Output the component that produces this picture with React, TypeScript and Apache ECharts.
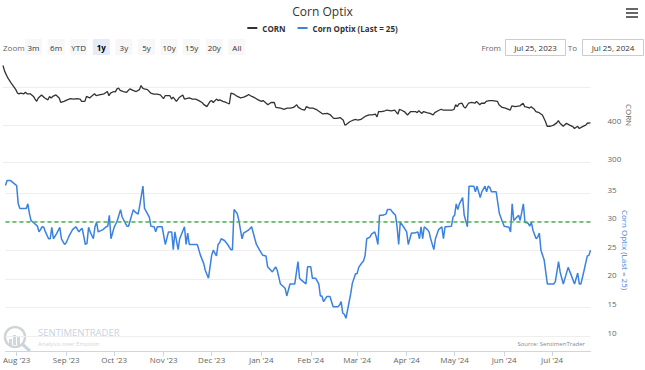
import React, { useEffect, useRef } from "react";
import * as echarts from "echarts";

// ---- data (day offsets from Jul 25, 2023) ----
const cornDays = [0,1,3,5,8,9,10,11,13,14,15,17,19,20,21,22,24,26,28,29,30,31,33,35,36,38,40,42,44,46,48,49,51,52,54,55,57,58,60,63,65,66,67,69,70,71,72,73,75,77,79,81,83,85,86,87,88,90,92,94,96,98,100,101,104,105,106,108,110,112,113,116,118,120,122,124,125,127,129,130,131,133,134,135,137,139,141,142,144,146,148,150,152,153,155,157,159,161,162,164,165,167,169,170,173,175,177,179,181,183,184,186,188,189,191,193,195,197,199,202,204,206,208,210,212,213,214,216,218,220,221,223,224,226,228,230,232,233,234,236,238,239,242,244,246,247,248,250,252,254,257,258,259,261,262,264,266,268,269,271,273,274,276,280,281,282,283,284,286,287,288,290,292,294,295,297,298,300,301,303,305,308,309,311,313,316,317,319,322,324,325,327,328,329,331,332,334,336,337,338,339,341,343,345,346,347,349,351,353,355,356,358,359,361,363,364,366];
const cornValues = [557,542,524,511,493,484,482,484,482,486,482,482,475,468,462,471,479,471,466,475,471,475,479,471,459,462,466,469,468,469,468,462,462,475,471,475,482,477,479,482,488,477,484,488,487,495,497,491,488,486,495,491,488,493,504,497,495,493,484,481,481,479,469,477,477,468,473,462,473,479,468,471,468,468,464,459,454,448,462,464,459,468,464,466,462,459,455,484,481,475,471,473,477,480,475,471,466,462,464,457,453,459,459,446,444,441,444,444,446,453,446,441,439,448,444,444,441,435,429,430,426,417,417,419,412,399,401,408,412,414,412,414,417,423,426,426,428,421,435,435,437,439,437,439,428,441,439,435,426,435,435,432,437,430,435,432,430,426,432,437,441,439,439,439,441,453,448,455,457,448,444,457,459,457,462,453,457,457,462,464,464,462,453,446,444,439,450,448,450,457,448,446,444,448,441,435,432,426,417,408,396,396,399,405,411,404,396,404,399,395,390,396,390,395,399,404,405];

const optixDays = [0,1,3,7,8,9,13,14,15,16,18,20,21,23,24,25,27,28,29,30,32,34,35,37,38,40,42,44,46,47,48,50,51,52,53,55,56,57,58,61,63,64,65,66,68,70,72,73,76,77,80,81,83,84,86,87,90,91,93,94,95,98,100,102,104,105,106,108,109,112,113,114,115,120,122,124,125,127,129,130,131,132,133,134,135,137,139,141,142,143,145,146,148,149,152,154,156,157,159,161,163,164,166,167,169,170,172,174,175,176,178,181,183,184,185,188,189,191,192,194,196,197,198,199,201,203,205,208,209,210,211,212,213,214,216,217,219,220,221,223,224,225,226,228,229,231,232,233,234,236,238,239,241,242,244,245,246,247,249,251,252,254,256,258,259,260,261,262,264,265,266,268,269,271,273,274,275,276,279,280,281,282,283,284,286,287,289,290,293,294,295,297,298,300,301,302,303,304,307,309,311,312,315,316,317,318,321,322,324,325,327,328,329,330,332,333,334,335,337,339,343,344,346,347,349,352,354,356,358,359,360,362,364,365,366];
const optixValues = [36.3,37.2,37.2,36.3,33.1,32.3,32.3,33.1,31.4,30.2,29.7,29.2,28.2,29.1,29.0,28.2,27.0,27.0,29.0,27.0,27.9,29.0,27.0,26.0,26.3,27.6,28.6,29.1,28.2,28.6,28.8,26.0,26.2,29.0,28.2,27.0,29.1,29.9,28.2,28.6,29.1,29.2,31.1,27.0,29.0,30.2,32.1,30.8,29.2,29.2,32.1,31.7,31.3,32.8,36.2,32.3,30.8,29.2,29.1,28.2,29.1,29.1,26.0,28.2,28.2,25.1,28.2,25.1,27.0,29.1,26.0,28.0,26.0,26.0,24.1,22.7,21.5,20.1,24.1,25.0,24.5,24.0,26.0,26.3,27.0,26.7,26.0,25.1,25.1,32.1,31.4,30.2,27.0,28.0,28.5,29.1,27.0,26.0,25.0,24.1,24.0,22.1,21.5,21.2,22.1,21.5,19.1,18.6,18.3,17.0,19.1,19.1,23.0,20.1,19.8,19.1,22.1,22.1,20.1,20.1,19.1,17.0,17.0,16.0,16.9,16.9,15.1,15.1,15.4,16.0,14.0,13.8,13.1,14.5,17.4,19.2,20.9,20.9,22.0,22.8,23.1,24.1,27.0,27.3,27.8,28.2,27.3,26.0,31.1,31.1,31.3,32.1,32.1,31.7,31.1,29.1,26.0,29.9,29.1,28.2,26.0,28.0,28.0,28.2,27.0,29.1,27.0,29.1,28.6,28.2,27.0,25.1,27.0,28.6,29.1,27.0,29.1,29.1,29.2,30.8,31.1,33.1,32.1,33.1,34.2,31.1,29.1,36.2,36.2,35.2,36.2,34.2,35.2,36.2,35.2,36.2,36.0,35.2,35.2,31.4,29.9,29.2,29.0,28.2,33.1,30.2,31.1,30.2,33.1,29.9,29.7,29.2,29.9,28.5,27.0,27.3,28.0,25.0,23.3,19.1,19.1,19.5,23.0,21.2,19.1,22.0,20.6,19.1,21.0,19.1,19.1,21.5,24.0,24.1,25.0];

const thresholdLevel = 30;
const monthLabels = ["Aug '23","Sep '23","Oct '23","Nov '23","Dec '23","Jan '24","Feb '24","Mar '24","Apr '24","May '24","Jun '24","Jul '24"];
const zoomButtons = ["3m","6m","YTD","1y","3y","5y","10y","15y","20y","All"];
const cornTicks = [300, 400, 500];
const optixTicks = [10, 15, 20, 25, 30, 35];

const START = new Date(2023, 6, 25).getTime();
const DAY = 86400000;
const END = START + 366 * DAY;
const monthStarts = monthLabels.map((_, i) => new Date(2023, 7 + i, 1).getTime());

const FONT = "Open Sans";

export default function App() {
  const ref = useRef<HTMLDivElement>(null);
  useEffect(() => {
    if (!ref.current) return;
    const chart = echarts.init(ref.current, null, { renderer: "svg" });
    const corn = cornDays.map((d, i) => [START + d * DAY, cornValues[i]]);
    const optix = optixDays.map((d, i) => [START + d * DAY, optixValues[i]]);
    const fmtMonth = (v: number) => {
      const idx = monthStarts.findIndex((m) => Math.abs(m - v) < DAY / 2);
      return idx >= 0 ? monthLabels[idx] : "";
    };
    const graphics: any[] = [];
    [8, 12, 16].forEach((y) =>
      graphics.push({ type: "rect", shape: { x: 626, y, width: 12, height: 2 }, style: { fill: "#666" } })
    );
    graphics.push({ type: "text", x: 3, y: 47, style: { text: "Zoom", fontSize: 8, fill: "#666", fontFamily: FONT, verticalAlign: "middle" } });
    zoomButtons.forEach((b, i) => {
      const cx = 33.5 + i * 22.6;
      const sel = b === "1y";
      graphics.push({ type: "rect", shape: { x: cx - 8.5, y: 39, width: 17, height: 16, r: 1 }, style: { fill: sel ? "#e6ebf5" : "#f7f7f7" } });
      graphics.push({ type: "text", x: cx, y: 47, style: { text: b, fontSize: 8, fill: sel ? "#000" : "#333", fontWeight: sel ? "bold" : "normal", fontFamily: FONT, align: "center", verticalAlign: "middle" } });
    });
    graphics.push({ type: "text", x: 501, y: 47, style: { text: "From", fontSize: 8, fill: "#666", fontFamily: FONT, align: "right", verticalAlign: "middle" } });
    graphics.push({ type: "rect", shape: { x: 505.5, y: 39.5, width: 60, height: 16 }, style: { fill: "#fff", stroke: "#cccccc", lineWidth: 1 } });
    graphics.push({ type: "text", x: 535.5, y: 47.5, style: { text: "Jul 25, 2023", fontSize: 8, fill: "#333", fontFamily: FONT, align: "center", verticalAlign: "middle" } });
    graphics.push({ type: "text", x: 577, y: 47, style: { text: "To", fontSize: 8, fill: "#666", fontFamily: FONT, align: "right", verticalAlign: "middle" } });
    graphics.push({ type: "rect", shape: { x: 582.5, y: 39.5, width: 61, height: 16 }, style: { fill: "#fff", stroke: "#cccccc", lineWidth: 1 } });
    graphics.push({ type: "text", x: 613, y: 47.5, style: { text: "Jul 25, 2024", fontSize: 8, fill: "#333", fontFamily: FONT, align: "center", verticalAlign: "middle" } });
    graphics.push({ type: "text", x: 629, y: 115, rotation: -Math.PI / 2, style: { text: "CORN", fontSize: 8, fill: "#666", fontFamily: FONT, align: "center", verticalAlign: "middle" } });
    graphics.push({ type: "text", x: 625, y: 250, rotation: -Math.PI / 2, style: { text: "Corn Optix (Last = 25)", fontSize: 8, fill: "#3b82e0", fontFamily: FONT, align: "center", verticalAlign: "middle" } });
    graphics.push({ type: "circle", shape: { cx: 15, cy: 337, r: 10 }, style: { fill: "none", stroke: "#cfd4d9", lineWidth: 2.5 } });
    [[9, 339, 3, 6], [13, 335, 3, 10], [17, 337, 3, 8]].forEach(([x, y, w, h]) =>
      graphics.push({ type: "rect", shape: { x, y, width: w, height: h }, style: { fill: "#d3d7db" } })
    );
    graphics.push({ type: "line", shape: { x1: 22, y1: 344, x2: 30, y2: 351 }, style: { stroke: "#c9d5e2", lineWidth: 3 } });
    graphics.push({ type: "text", x: 38, y: 332.5, style: { text: "SENTIMENTRADER", fontSize: 9.5, lineHeight: 11, fill: "#c7d3e0", fontFamily: FONT, verticalAlign: "middle" } });
    graphics.push({ type: "text", x: 38, y: 343.5, style: { text: "Analysis over Emotion", fontSize: 6, lineHeight: 7, fill: "#cfd6dd", fontFamily: FONT, verticalAlign: "middle" } });
    graphics.push({ type: "text", x: 585, y: 344, style: { text: "Source: SentimenTrader", fontSize: 6, fill: "#888", fontFamily: FONT, align: "right", verticalAlign: "middle" } });

    const yLabel = { fontSize: 8, color: "#666", margin: 17, fontFamily: FONT, verticalAlign: "bottom", lineHeight: 8 };
    chart.setOption({
      animation: false,
      textStyle: { fontFamily: FONT },
      title: { text: "Corn Optix", left: "center", top: 0, textStyle: { fontSize: 12, fontWeight: "normal", color: "#333", fontFamily: FONT } },
      legend: {
        top: 19, left: "center", icon: "rect", itemWidth: 10, itemHeight: 2, itemGap: 12,
        textStyle: { fontSize: 8, fontWeight: "bold", color: "#333", fontFamily: FONT },
        data: ["CORN", "Corn Optix (Last = 25)"],
      },
      grid: [
        { left: 3, right: 54.5, top: 87, height: 75.5 },
        { left: 3, right: 54.5, top: 193, height: 143 },
      ],
      xAxis: [
        { type: "value", gridIndex: 0, min: START, max: END, show: false },
        {
          type: "value", gridIndex: 1, min: START, max: END, offset: 15,
          axisLine: { show: true, lineStyle: { color: "#ccd6eb" } },
          axisTick: { show: true, length: 5, customValues: monthStarts, lineStyle: { color: "#ccd6eb" } },
          axisLabel: { customValues: monthStarts, formatter: fmtMonth, fontSize: 8, color: "#666", margin: 4, fontFamily: FONT },
          splitLine: { show: false },
        },
      ],
      yAxis: [
        {
          type: "value", gridIndex: 0, position: "right", min: cornTicks[0], max: cornTicks[cornTicks.length - 1], interval: 100,
          axisLine: { show: false }, axisTick: { show: false },
          axisLabel: { ...yLabel, formatter: (v: number) => (v === 500 ? "" : String(v)) },
          splitLine: { lineStyle: { color: "#eeeeee" } },
        },
        {
          type: "value", gridIndex: 1, position: "right", min: optixTicks[0], max: optixTicks[optixTicks.length - 1], interval: 5,
          axisLine: { show: false }, axisTick: { show: false },
          axisLabel: yLabel,
          splitLine: { lineStyle: { color: "#eeeeee" } },
        },
      ],
      series: [
        {
          name: "CORN", type: "line", xAxisIndex: 0, yAxisIndex: 0, data: corn, showSymbol: false, symbol: "none", clip: false,
          lineStyle: { color: "#333", width: 1.3 }, itemStyle: { color: "#333" },
        },
        {
          name: "Corn Optix (Last = 25)", type: "line", xAxisIndex: 1, yAxisIndex: 1, data: optix, showSymbol: false, symbol: "none", clip: false,
          lineStyle: { color: "#3b82e0", width: 1.5 }, itemStyle: { color: "#3b82e0" },
          markLine: {
            silent: true, symbol: "none", label: { show: false },
            lineStyle: { color: "#4caf50", type: [4, 3], width: 1.5 },
            data: [{ yAxis: thresholdLevel }],
          },
        },
      ],
      graphic: graphics,
    });
    return () => chart.dispose();
  }, []);
  return <div ref={ref} style={{ position: "fixed", left: 0, top: 0, width: 645, height: 370, background: "#fff" }} />;
}
